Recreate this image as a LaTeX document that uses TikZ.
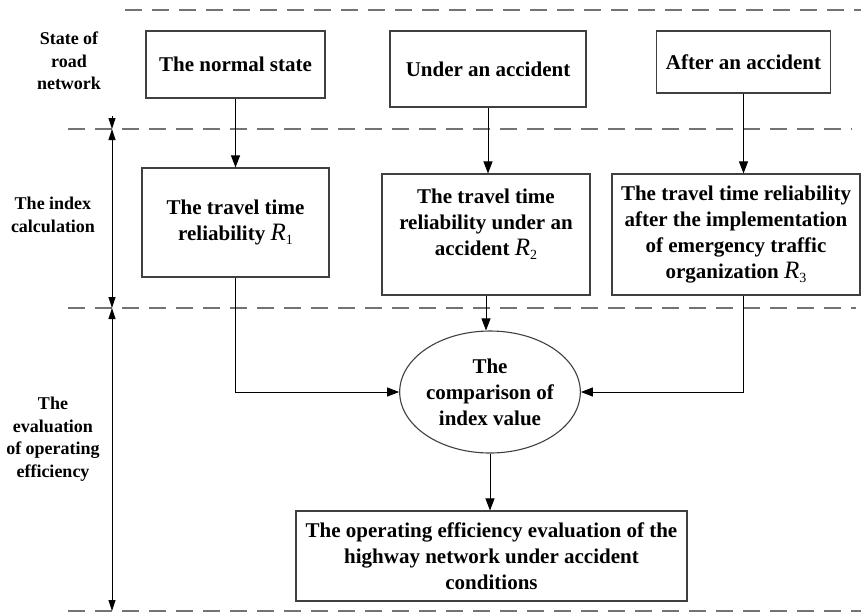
\documentclass[tikz,border=0pt]{standalone}
\usepackage{fontspec}
\setmainfont{Liberation Serif}
\usetikzlibrary{arrows.meta,shapes.geometric}
\newcommand{\Rind}[1]{{\mdseries\itshape\fontsize{25}{26}\selectfont R}\raisebox{-4pt}{\mdseries\fontsize{14}{14}\selectfont #1}}
\begin{document}
\begin{tikzpicture}[x=1pt,y=-1pt,
    box/.style={draw=black!75,line width=1.1pt,align=center,inner sep=0pt,
      font=\bfseries\fontsize{21}{26}\selectfont},
    side/.style={align=center,inner sep=0pt,font=\bfseries\fontsize{18}{22.6}\selectfont},
    level/.style={draw=black!55,line width=2pt,dash pattern=on 17pt off 10pt},
    flow/.style={-{Triangle[length=12pt,width=9pt]},line width=0.9pt},
    span/.style={{Triangle[length=11pt,width=7pt]}-{Triangle[length=11pt,width=7pt]},line width=0.9pt}]
  \useasboundingbox (0,0) rectangle (861,614);
  \draw[level] (125,10) -- (861,10);
  \draw[level] (68,129) -- (852,129);
  \draw[level] (68,308) -- (856,308);
  \draw[level] (68,611) -- (861,611);
  \draw
    (69,61) node[side] (roadlbl){State of\\road\\network}
    (53,215) node[side] (indexlbl){The index\\calculation}
    (53,439) node[side] (evallbl){The\\evaluation\\of operating\\efficiency}
    (235.5,64.5) node[box,minimum width=179pt,minimum height=67pt] (normal){The normal state}
    (488,69) node[box,minimum width=196pt,minimum height=76pt] (under){Under an accident}
    (743.5,62) node[box,minimum width=174pt,minimum height=62pt] (after){After an accident}
    (235.5,222.5) node[box,minimum width=187pt,minimum height=109pt] (r1){The travel time\\reliability \Rind{1}}
    (486,234.5) node[box,minimum width=208pt,minimum height=121pt] (r2){The travel time\\reliability under an\\accident \Rind{2}\\[-9pt]\strut}
    (736,234.5) node[box,minimum width=248pt,minimum height=121pt] (r3){The travel time reliability\\after the implementation\\of emergency traffic\\organization \Rind{3}}
    (490,392) node[box,ellipse,minimum width=176pt,minimum height=122pt] (cmp){The\\comparison of\\index value}
    (491.5,556) node[box,minimum width=391pt,minimum height=90pt] (final){The operating efficiency evaluation of the\\highway network under accident\\conditions};
  \coordinate (d0) at (112,116);
  \coordinate (d1) at (112,129);
  \coordinate (d2) at (112,308);
  \coordinate (d3) at (112,611);
  \draw[flow,-{Triangle[length=11pt,width=7pt]}] (d0) to (d1);
  \draw[span] (d1) to (d2);
  \draw[span] (d2) to (d3);
  \begin{scope}[flow]
    \draw (normal) to (r1);
    \draw (under.south) to (under.south |- r2.north);
    \draw (after.south) to (after.south |- r3.north);
    \draw (r1) |- (cmp);
    \draw (r2.south) to (r2.south |- cmp.north);
    \draw (r3.south -| after) |- (cmp);
    \draw (cmp) to (cmp |- final.north);
  \end{scope}
\end{tikzpicture}
\end{document}
